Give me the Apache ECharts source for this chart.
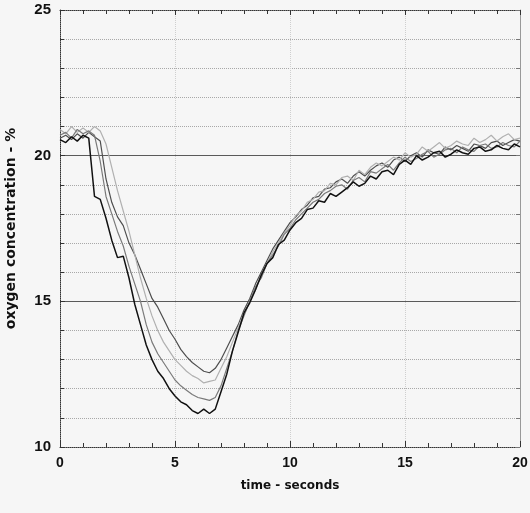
<!DOCTYPE html>
<html><head><meta charset="utf-8">
<script src="https://cdn.jsdelivr.net/npm/echarts@6/dist/echarts.min.js"></script>
<style>html,body{margin:0;padding:0;background:#f6f6f6}#c{width:530px;height:513px}</style>
</head><body><div id="c"></div>
<script>
// time in seconds
const time = [
0,0.25,0.5,0.75,1,1.25,1.5,1.75,
2,2.25,2.5,2.75,3,3.25,3.5,3.75,
4,4.25,4.5,4.75,5,5.25,5.5,5.75,
6,6.25,6.5,6.75,7,7.25,7.5,7.75,
8,8.25,8.5,8.75,9,9.25,9.5,9.75,
10,10.25,10.5,10.75,11,11.25,11.5,11.75,
12,12.25,12.5,12.75,13,13.25,13.5,13.75,
14,14.25,14.5,14.75,15,15.25,15.5,15.75,
16,16.25,16.5,16.75,17,17.25,17.5,17.75,
18,18.25,18.5,18.75,19,19.25,19.5,19.75,
20];
// oxygen concentration, %
const run1 = [
20.55,20.45,20.65,20.5,20.7,20.6,18.6,18.5,
17.85,17.1,16.5,16.55,15.8,14.9,14.2,13.5,
13.0,12.6,12.35,12.0,11.75,11.55,11.45,11.25,
11.15,11.3,11.15,11.3,11.9,12.5,13.3,13.95,
14.6,14.95,15.4,15.9,16.3,16.5,16.95,17.1,
17.45,17.7,17.85,18.15,18.2,18.45,18.4,18.7,
18.6,18.75,18.9,19.1,18.95,19.05,19.3,19.2,
19.45,19.5,19.35,19.7,19.85,19.7,20.0,19.85,
19.95,20.1,20.15,19.95,20.05,20.2,20.1,20.05,
20.25,20.3,20.15,20.2,20.35,20.25,20.2,20.4,
20.3];
const run2 = [
20.7,20.8,20.6,20.9,20.75,20.85,20.7,19.8,
18.6,18.0,17.4,16.9,16.2,15.6,15.0,14.2,
13.6,13.2,12.9,12.6,12.3,12.1,11.95,11.8,
11.7,11.65,11.6,11.7,12.1,12.7,13.3,14.0,
14.5,15.0,15.5,15.8,16.3,16.6,16.9,17.3,
17.5,17.8,18.0,18.2,18.4,18.5,18.7,18.8,
18.95,19.0,18.85,19.15,19.25,19.1,19.45,19.4,
19.55,19.7,19.5,19.75,19.95,19.8,19.9,20.05,
20.15,19.95,20.05,20.2,20.25,20.1,20.3,20.2,
20.15,20.35,20.4,20.25,20.3,20.45,20.35,20.3,
20.5];
const run3 = [
20.9,20.75,21.0,20.8,20.95,20.8,21.0,20.85,
20.4,19.6,18.8,18.1,17.4,16.6,15.8,15.1,
14.5,14.0,13.6,13.3,13.0,12.8,12.6,12.45,
12.35,12.2,12.25,12.3,12.7,13.1,13.6,14.1,
14.6,15.0,15.4,15.9,16.3,16.7,17.0,17.35,
17.6,17.95,18.1,18.4,18.5,18.75,18.8,19.05,
19.0,19.25,19.3,19.15,19.5,19.35,19.6,19.75,
19.65,19.8,19.95,19.85,20.1,19.95,20.05,20.3,
20.15,20.3,20.45,20.25,20.35,20.5,20.4,20.35,
20.6,20.45,20.55,20.7,20.5,20.65,20.75,20.55,
20.6];
const run4 = [
20.6,20.7,20.55,20.75,20.6,20.8,20.65,20.5,
19.2,18.4,17.9,17.6,17.0,16.6,16.1,15.6,
15.1,14.8,14.4,14.0,13.7,13.35,13.1,12.9,
12.75,12.6,12.55,12.7,13.0,13.4,13.8,14.2,
14.7,15.1,15.6,16.0,16.4,16.8,17.1,17.4,
17.7,17.9,18.15,18.3,18.55,18.6,18.85,18.9,
19.1,19.2,19.05,19.3,19.45,19.3,19.5,19.65,
19.75,19.6,19.85,19.95,19.8,20.0,20.1,19.95,
20.2,20.1,20.05,20.3,20.2,20.35,20.25,20.15,
20.4,20.35,20.25,20.45,20.5,20.35,20.45,20.55,
20.5];

const runs = [run1, run2, run3, run4];
const runColors = ['#111111', '#7a7a7a', '#b0b0b0', '#4e4e4e'];
const runWidths = [1.5, 1.2, 1.2, 1.2];

const font = 'Liberation Sans, Arial, sans-serif';
const wideFont = 'DejaVu Sans, Verdana, sans-serif';
const chart = echarts.init(document.getElementById('c'));
const axisDark = '#333';

chart.setOption({
  backgroundColor: '#f6f6f6',
  animation: false,
  grid: {left: 60, right: 10, top: 10, bottom: 66, containLabel: false, outerBoundsMode: 'none'},
  xAxis: [{
    type: 'value', position: 'bottom', min: 0, max: 20, interval: 5,
    axisLine: {show: true, onZero: false, lineStyle: {color: axisDark, type: 'dotted', width: 1}},
    axisTick: {show: true, inside: true, length: 6, lineStyle: {color: axisDark}},
    minorTick: {show: true, splitNumber: 5, length: 4, lineStyle: {color: axisDark}},
    axisLabel: {fontWeight: 'bold', fontSize: 14, color: '#111', margin: 9, fontFamily: font},
    splitLine: {show: true, lineStyle: {color: '#cfcfcf', type: 'dotted'}},
    name: 'time - seconds', nameLocation: 'middle', nameGap: 33,
    nameTextStyle: {fontWeight: 'bold', fontSize: 12, color: '#111', fontFamily: wideFont}
  }, {
    type: 'value', position: 'top', min: 0, max: 20, interval: 5,
    axisLine: {show: true, onZero: false, lineStyle: {color: axisDark, type: 'dotted', width: 1}},
    axisTick: {show: true, inside: true, length: 5, lineStyle: {color: axisDark}},
    minorTick: {show: true, splitNumber: 5, length: 4, lineStyle: {color: axisDark}},
    axisLabel: {show: false}, splitLine: {show: false}
  }],
  yAxis: [{
    type: 'value', position: 'left', min: 10, max: 25, interval: 5,
    axisLine: {show: true, onZero: false, lineStyle: {color: axisDark, type: 'dotted', width: 1}},
    axisTick: {show: true, inside: true, length: 5, lineStyle: {color: axisDark}},
    minorTick: {show: true, splitNumber: 5, length: 4, lineStyle: {color: axisDark}},
    axisLabel: {fontWeight: 'bold', fontSize: 15, color: '#111', margin: 9, fontFamily: font},
    splitLine: {show: true, lineStyle: {color: ['rgba(0,0,0,0)', '#5a5a5a', '#5a5a5a', 'rgba(0,0,0,0)'], width: 1}},
    minorSplitLine: {show: true, lineStyle: {color: '#a8a8a8', type: 'dotted', width: 1}},
    name: 'oxygen concentration - %', nameLocation: 'middle', nameGap: 42, nameRotate: 90,
    nameTextStyle: {fontWeight: 'bold', fontSize: 14, color: '#111', fontFamily: wideFont}
  }, {
    type: 'value', position: 'right', min: 10, max: 25, interval: 5,
    axisLine: {show: true, onZero: false, lineStyle: {color: '#999', width: 1}},
    axisTick: {show: true, inside: true, length: 4, lineStyle: {color: '#777'}},
    minorTick: {show: true, splitNumber: 5, length: 4, lineStyle: {color: '#777'}},
    axisLabel: {show: false}, splitLine: {show: false}
  }],
  series: runs.map((r, k) => ({
    type: 'line', xAxisIndex: 0, yAxisIndex: 0,
    data: time.map((t, i) => [t, r[i]]),
    showSymbol: false, symbol: 'none', silent: true,
    z: 10 - k,
    lineStyle: {color: runColors[k], width: runWidths[k]}
  }))
});
</script></body></html>
